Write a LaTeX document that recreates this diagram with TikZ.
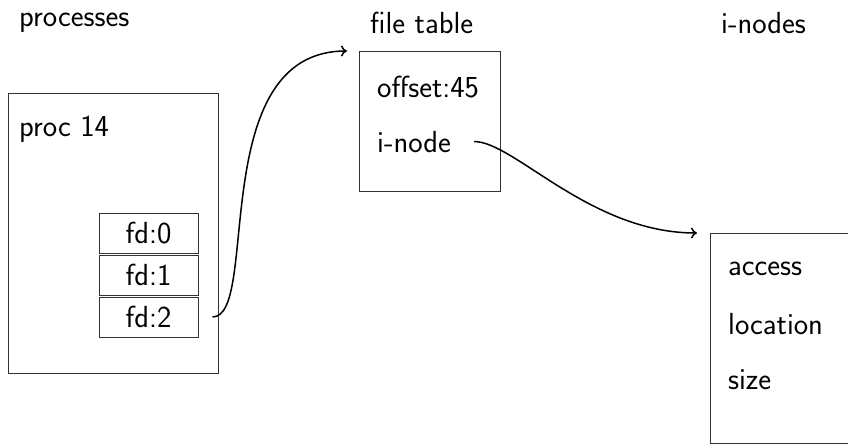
\documentclass[tikz,border=0pt]{standalone}
\usetikzlibrary{calc,arrows.meta}
\begin{document}
\begin{tikzpicture}[x=1pt,y=-1pt,
  box/.style={draw=black!80,line width=1pt,rectangle,inner sep=0pt,anchor=north west},
  lbl/.style={inner sep=0pt,anchor=base west,font=\sffamily\fontsize{30.5}{36}\selectfont},
  fdlbl/.style={font=\sffamily\fontsize{30.5}{36}\selectfont},
  link/.style={draw=black,line width=1.5pt,-{To[length=6pt,width=11pt]}}]
\useasboundingbox (0,0) rectangle (848,445);

% column headings
\node[lbl] (hproc) at (19,26) {processes};
\node[lbl] (hft) at (370,33) {file table};
\node[lbl] (hin) at (721,33) {i-nodes};

% process with its descriptor slots
\node[box,minimum width=210pt,minimum height=280pt] (proc) at (8,93) {};
\node[lbl] (procname) at (19,136) {proc 14};
\node[box,minimum width=99pt,minimum height=40pt,fdlbl,anchor=center] (fd0) at (148.5,233) {fd:0};
\node[box,minimum width=99pt,minimum height=40pt,fdlbl,anchor=center] (fd1) at (148.5,275) {fd:1};
\node[box,minimum width=99pt,minimum height=40pt,fdlbl,anchor=center] (fd2) at (148.5,317) {fd:2};

% open file table entry
\node[box,minimum width=141pt,minimum height=140pt] (ft) at (359,51) {};
\node[lbl] (offset) at (377,97) {offset:45};
\node[lbl] (inode) at (377,152) {i-node};

% i-node
\node[box,minimum width=160pt,minimum height=210pt] (in) at (710,233) {};
\node[lbl] (access) at (728,275) {access};
\node[lbl] (location) at (728,334) {location};
\node[lbl] (size) at (728,389) {size};

% references
\coordinate (c1s) at ([xshift=14pt]fd2.east);
\coordinate (c1e) at ([xshift=-12pt]ft.north west);
\draw[link] (c1s) .. controls +(48,0) and +(-142,0) .. (c1e);
\coordinate (c2s) at ([xshift=23pt]inode.east);
\coordinate (c2e) at ([xshift=-13pt]in.north west);
\draw[link] (c2s) .. controls +(40,0) and +(-107,0) .. (c2e);
\end{tikzpicture}
\end{document}
